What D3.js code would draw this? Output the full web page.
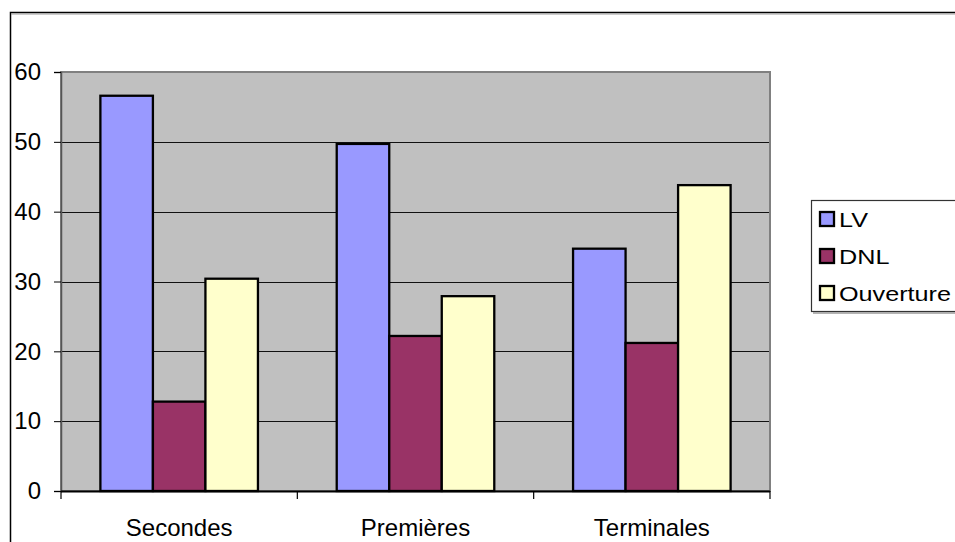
<!DOCTYPE html>
<html>
<head>
<meta charset="utf-8">
<script src="https://cdn.jsdelivr.net/npm/d3@7"></script>
<style>
  html, body { margin: 0; padding: 0; background: #fff; overflow: hidden; }
  svg { display: block; font-family: Arial, "Liberation Sans", sans-serif; }
</style>
</head>
<body>
<svg id="chart" width="955" height="542"></svg>
<script>
// Class levels and the three answer series
const categories = ["Secondes", "Premières", "Terminales"];
const seriesNames = ["LV", "DNL", "Ouverture"];
const lvValues = [56.6, 49.7, 34.7];
const dnlValues = [12.8, 22.2, 21.2];
const ouvertureValues = [30.4, 27.9, 43.8];
const yTicks = [0, 10, 20, 30, 40, 50, 60];
const colors = ["#9999FF", "#993366", "#FFFFCC"];

const seriesValues = [lvValues, dnlValues, ouvertureValues];
const rows = categories.map((c, i) => ({
  category: c,
  values: seriesNames.map((s, j) => ({ series: s, value: seriesValues[j][i] }))
}));

const svg = d3.select("#chart");
const plot = { left: 61, right: 770, top: 72, bottom: 491 };

// Outer chart frame (extends past the window on the right and bottom)
svg.append("rect")
  .attr("x", 10.5).attr("y", 12.5)
  .attr("width", 960).attr("height", 560)
  .attr("fill", "#fff")
  .attr("stroke", "#000").attr("stroke-width", 1.5);
svg.append("line")
  .attr("x1", 11).attr("x2", 960).attr("y1", 14).attr("y2", 14)
  .attr("stroke", "#9a9a9a").attr("stroke-width", 1);

const x0 = d3.scaleBand().domain(categories).range([plot.left, plot.right]).padding(0);
const x1 = d3.scaleBand().domain(seriesNames).range([0, x0.bandwidth()])
  .paddingInner(0).paddingOuter(0.75);
const y = d3.scaleLinear().domain([0, 60]).range([plot.bottom, plot.top]);

// Plot area background
svg.append("rect")
  .attr("x", plot.left).attr("y", plot.top)
  .attr("width", plot.right - plot.left).attr("height", plot.bottom - plot.top)
  .attr("fill", "#C0C0C0");

// Horizontal gridlines
svg.append("g")
  .selectAll("line")
  .data(yTicks.filter(t => t > 0 && t < 60))
  .join("line")
  .attr("x1", plot.left).attr("x2", plot.right)
  .attr("y1", d => Math.round(y(d)) + 0.5).attr("y2", d => Math.round(y(d)) + 0.5)
  .attr("stroke", "#111").attr("stroke-width", 1.2);

// Plot area border
svg.append("rect")
  .attr("x", plot.left).attr("y", plot.top)
  .attr("width", plot.right - plot.left).attr("height", plot.bottom - plot.top)
  .attr("fill", "none")
  .attr("stroke", "#808080").attr("stroke-width", 2);

// Bars
svg.append("g")
  .selectAll("g")
  .data(rows)
  .join("g")
  .attr("transform", d => `translate(${x0(d.category)},0)`)
  .selectAll("rect")
  .data(d => d.values)
  .join("rect")
  .attr("x", d => x1(d.series))
  .attr("y", d => y(d.value))
  .attr("width", x1.bandwidth())
  .attr("height", d => y(0) - y(d.value))
  .attr("fill", (d, i) => colors[i])
  .attr("stroke", "#000").attr("stroke-width", 2.3);

// Y axis
const yAxis = svg.append("g")
  .attr("transform", `translate(${plot.left},0)`)
  .call(d3.axisLeft(y).tickValues(yTicks).tickSize(7).tickPadding(13).tickFormat(d3.format("d")));
yAxis.select(".domain").attr("stroke", "#555").attr("stroke-width", 1.5);
yAxis.selectAll(".tick line").attr("stroke", "#000");
yAxis.selectAll(".tick text")
  .attr("font-size", 24).attr("fill", "#000")
  .attr("font-family", "Arial, 'Liberation Sans', sans-serif");

// X axis line and category boundary ticks
svg.append("line")
  .attr("x1", plot.left).attr("x2", plot.right)
  .attr("y1", plot.bottom + 0.5).attr("y2", plot.bottom + 0.5)
  .attr("stroke", "#000").attr("stroke-width", 2);
const boundaries = categories.map(c => x0(c)).concat([x0(categories[categories.length - 1]) + x0.bandwidth()]);
svg.append("g").selectAll("line")
  .data(boundaries)
  .join("line")
  .attr("x1", d => d).attr("x2", d => d)
  .attr("y1", plot.bottom).attr("y2", plot.bottom + 8)
  .attr("stroke", "#000").attr("stroke-width", 1.2);

// Category labels
svg.append("g").selectAll("text")
  .data(categories)
  .join("text")
  .attr("x", d => x0(d) + x0.bandwidth() / 2)
  .attr("y", 536)
  .attr("text-anchor", "middle")
  .attr("font-size", 24)
  .attr("fill", "#000")
  .text(d => d);

// Legend
const legend = svg.append("g");
legend.append("rect")
  .attr("x", 811.5).attr("y", 200.5)
  .attr("width", 200).attr("height", 111)
  .attr("fill", "#fff")
  .attr("stroke", "#333").attr("stroke-width", 1.2);
legend.append("line")
  .attr("x1", 813).attr("x2", 960).attr("y1", 313).attr("y2", 313)
  .attr("stroke", "#9a9a9a").attr("stroke-width", 1.5);
const legendY = d3.scalePoint().domain(seriesNames).range([219, 293]);
const items = legend.selectAll("g.item")
  .data(seriesNames)
  .join("g")
  .attr("class", "item")
  .attr("transform", d => `translate(0,${legendY(d)})`);
items.append("rect")
  .attr("x", 820).attr("y", -7)
  .attr("width", 14).attr("height", 14)
  .attr("fill", (d, i) => colors[i])
  .attr("stroke", "#000").attr("stroke-width", 2.3);
items.append("text")
  .attr("transform", "translate(839,7.5) scale(1.2,1)")
  .attr("font-size", 21)
  .attr("fill", "#000")
  .text(d => d);
</script>
</body>
</html>
